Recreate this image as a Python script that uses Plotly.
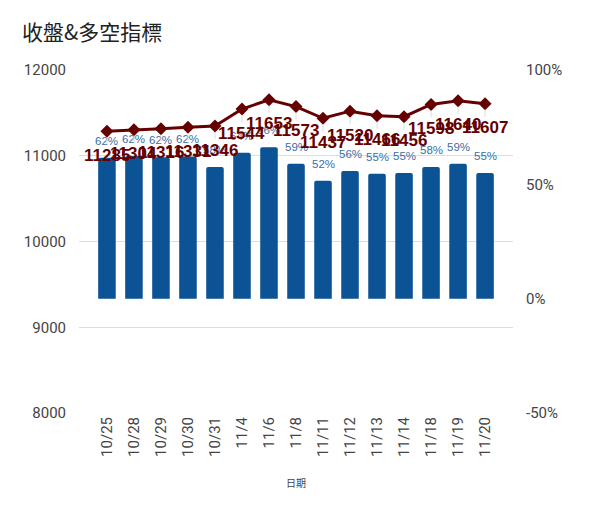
import plotly.graph_objects as go

dates = ["10/25", "10/28", "10/29", "10/30", "10/31", "11/4", "11/6", "11/8",
         "11/11", "11/12", "11/13", "11/14", "11/18", "11/19", "11/20"]
close = [11285, 11304, 11316, 11331, 11346, 11544, 11653, 11573,
         11437, 11520, 11466, 11456, 11598, 11640, 11607]
ratio = [61.6, 62.4, 61.8, 62.2, 57.6, 63.8, 66.2, 59.0,
         51.6, 55.8, 54.6, 55.0, 57.6, 59.0, 55.0]

price_ticks = [8000, 9000, 10000, 11000, 12000]
price_ticktext = ["8000", "9000", "10000", "11000", "12000"]
pct_ticks = [-50, 0, 50, 100]
pct_ticktext = ["-50%", "0%", "50%", "100%"]

LINE_RED = "#660000"
BAR_BLUE = "#0b5394"
TICK_FONT = dict(family="Roboto, Liberation Sans", size=15, color="#444444")

fig = go.Figure()
fig.add_trace(go.Bar(
    x=dates, y=ratio, yaxis="y",
    marker=dict(color=BAR_BLUE, cornerradius=2, line=dict(width=0)),
    name="多空指標",
))
fig.add_trace(go.Scatter(
    x=dates, y=close, yaxis="y2", mode="lines+markers",
    line=dict(color=LINE_RED, width=3),
    marker=dict(symbol="diamond", size=10, color=LINE_RED, line=dict(width=0)),
    cliponaxis=False, name="收盤",
))

bar_labels = [
    dict(x=d, y=r, xref="x", yref="y", text=f"{r:.0f}%", showarrow=False,
         yshift=17, font=dict(family="Liberation Sans, Arial", size=11.5, color="#3a6ea8"))
    for d, r in zip(dates, ratio)
]
line_labels = [
    dict(x=d, y=c, xref="x", yref="y2", text=f"{c}", showarrow=True,
         arrowhead=0, arrowwidth=1, arrowcolor="#dcdcdc", ax=0, ay=24, standoff=6,
         font=dict(family="Liberation Sans, Arial", size=17, color=LINE_RED, weight="bold"))
    for d, c in zip(dates, close)
]

fig.update_layout(
    width=591, height=512,
    margin=dict(l=71, r=86, t=62, b=107),
    paper_bgcolor="white", plot_bgcolor="white",
    showlegend=False,
    bargap=0.35,
    annotations=bar_labels + line_labels,
    title=dict(text="收盤&多空指標", x=14/591, xref="container", xanchor="left",
               y=1-25/512, yref="container", yanchor="middle",
               font=dict(family="Noto Sans CJK TC", size=21, color="#222222")),
    xaxis=dict(
        tickangle=-90, tickfont=TICK_FONT, automargin=False,
        showgrid=False, showline=False, ticks="",
        title=dict(text="日期", font=dict(family="Noto Sans CJK TC", size=10, color="#444444"),
                   standoff=24),
    ),
    yaxis=dict(
        side="right", range=[-50, 100], tickvals=pct_ticks, ticktext=pct_ticktext,
        showgrid=False, zeroline=False, showline=False, ticks="", automargin=False,
        tickfont=TICK_FONT, ticklabelstandoff=12,
    ),
    yaxis2=dict(
        overlaying="y", side="left", range=[8000, 12000], tickvals=price_ticks,
        ticktext=price_ticktext, automargin=False,
        showgrid=True, gridcolor="#dddddd", gridwidth=1, zeroline=False, showline=False,
        ticks="", tickfont=TICK_FONT, ticklabelstandoff=12,
    ),
)

fig.write_html("out.html")
